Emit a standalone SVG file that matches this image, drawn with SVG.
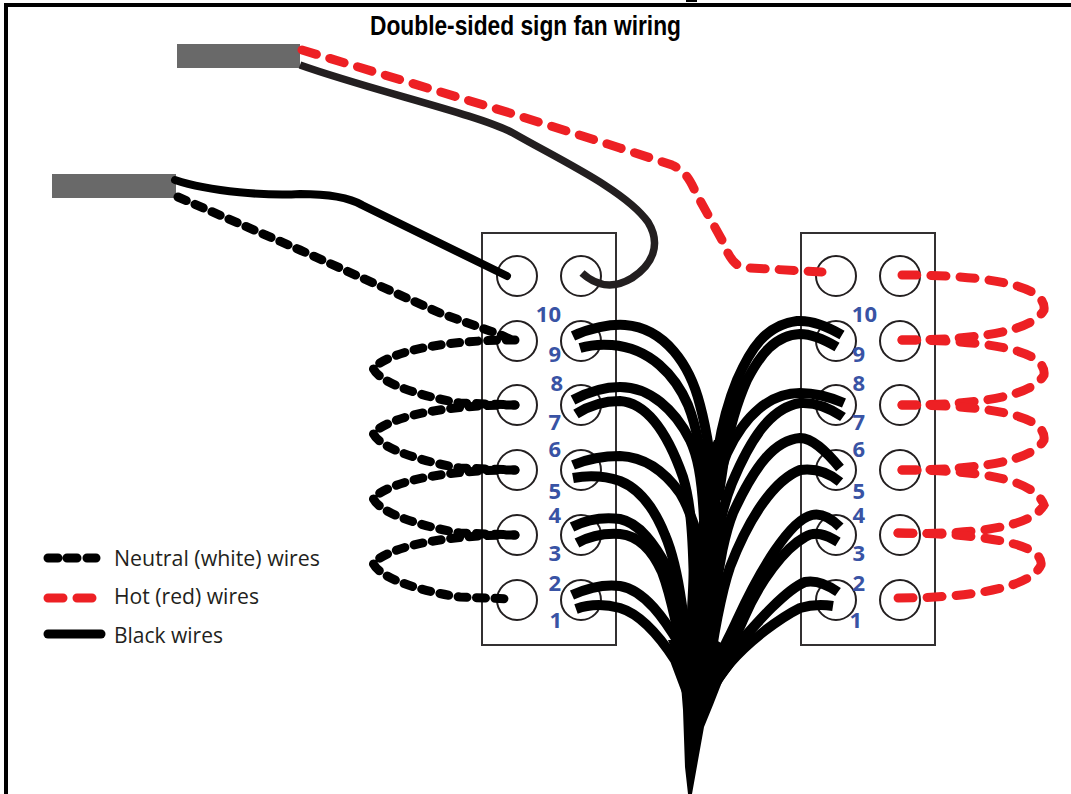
<svg xmlns="http://www.w3.org/2000/svg" width="1071" height="794" viewBox="0 0 1071 794">
<style>
.frame{fill:none;stroke:#000;stroke-width:4}
.block{fill:#fff;stroke:#333031;stroke-width:2}
.term{fill:none;stroke:#231f20;stroke-width:2}
.cable{fill:#696969}
.num{font:bold 22px "Open Sans","Noto Sans",sans-serif;fill:#3953a4;text-anchor:end}
.leg{font:21px "Open Sans","Noto Sans",sans-serif;fill:#231f20}
.title{font:bold 27px "Liberation Sans Narrow","Liberation Sans",sans-serif;fill:#000}
.fan{fill:none;stroke:#000;stroke-width:10;stroke-linejoin:round}
.neutral{fill:none;stroke:#000;stroke-width:9;stroke-linecap:round;stroke-dasharray:9 9.5}
.hot{fill:none;stroke:#ed2024;stroke-width:9;stroke-linecap:round;stroke-dasharray:15 14}
.black{fill:none;stroke:#000;stroke-width:8;stroke-linecap:round}
</style>
<rect width="1071" height="794" fill="#fff"/>
<path class="frame" d="M6 794V5H1071"/>
<rect x="686" y="0" width="11" height="2" fill="#000"/>
<text class="title" x="370" y="35" textLength="311" lengthAdjust="spacingAndGlyphs">Double-sided sign fan wiring</text>
<g id="block-left">
<rect class="block" x="482" y="233" width="134" height="412"/>
<circle class="term" cx="517" cy="276" r="20"/><circle class="term" cx="581" cy="276" r="20"/>
<circle class="term" cx="517" cy="341" r="20"/><circle class="term" cx="581" cy="341" r="20"/>
<circle class="term" cx="517" cy="405" r="20"/><circle class="term" cx="581" cy="405" r="20"/>
<circle class="term" cx="517" cy="470" r="20"/><circle class="term" cx="581" cy="470" r="20"/>
<circle class="term" cx="517" cy="535" r="20"/><circle class="term" cx="581" cy="535" r="20"/>
<circle class="term" cx="517" cy="600" r="20"/><circle class="term" cx="581" cy="600" r="20"/>
<text class="num" x="561" y="322">10</text><text class="num" x="561" y="362">9</text>
<text class="num" x="563" y="391">8</text><text class="num" x="561" y="430">7</text>
<text class="num" x="561" y="457">6</text><text class="num" x="561" y="499">5</text>
<text class="num" x="561" y="523">4</text><text class="num" x="561" y="561">3</text>
<text class="num" x="561" y="591">2</text><text class="num" x="562" y="628">1</text>
</g>
<g id="block-right">
<rect class="block" x="801" y="233" width="134" height="412"/>
<circle class="term" cx="836" cy="276" r="20"/><circle class="term" cx="900" cy="276" r="20"/>
<circle class="term" cx="836" cy="341" r="20"/><circle class="term" cx="900" cy="341" r="20"/>
<circle class="term" cx="836" cy="405" r="20"/><circle class="term" cx="900" cy="405" r="20"/>
<circle class="term" cx="836" cy="470" r="20"/><circle class="term" cx="900" cy="470" r="20"/>
<circle class="term" cx="836" cy="535" r="20"/><circle class="term" cx="900" cy="535" r="20"/>
<circle class="term" cx="836" cy="600" r="20"/><circle class="term" cx="900" cy="600" r="20"/>
<text class="num" x="877" y="322">10</text><text class="num" x="865" y="362">9</text>
<text class="num" x="865" y="391">8</text><text class="num" x="865" y="430">7</text>
<text class="num" x="865" y="457">6</text><text class="num" x="865" y="499">5</text>
<text class="num" x="865" y="523">4</text><text class="num" x="865" y="561">3</text>
<text class="num" x="865" y="591">2</text><text class="num" x="862" y="628">1</text>
</g>
<g id="cable-top"><rect class="cable" x="177" y="44" width="123" height="24"/></g>
<g id="cable-bottom"><rect class="cable" x="52" y="174" width="124" height="24"/></g>
<g id="connectors">
<path d="M300 65C370 90 480 115 513 133C560 160 625 190 648 222C662 245 652 265 632 278C612 290 595 285 582 273" fill="none" stroke="#231f20" stroke-width="7.5"/>
<path class="black" d="M175 180C210 192 270 196 300 194C330 194 350 198 362 205L507 276"/>
<path class="neutral" d="M178 197L300 250L440 313L490 331C505 336 510 340 516 341"/>
<path class="hot" d="M302 50L510 113L620 148L672 165C688 172 692 185 697 195L722 240C733 268 740 267 750 268L822 272"/>
<g id="neutral-loops">
<path class="neutral" d="M515 340C470 340 400 345 373 368C380 385 430 398 460 403L515 405"/>
<path class="neutral" d="M515 405C470 405 400 410 373 433C380 450 430 463 460 468L515 470"/>
<path class="neutral" d="M515 470C470 470 400 475 373 498C380 515 430 528 460 533L515 535"/>
<path class="neutral" d="M515 535C470 535 400 540 373 563C380 580 430 593 460 597L512 599"/>
</g>
<g id="hot-loops">
<path class="hot" d="M902 275C960 275 1048 280 1044 310C1030 335 960 340 902 340"/>
<path class="hot" d="M902 340C960 340 1048 345 1044 375C1030 400 960 405 902 405"/>
<path class="hot" d="M902 405C960 405 1048 410 1044 440C1030 465 960 470 902 470"/>
<path class="hot" d="M902 470C975 470 1034 478 1044 505C1030 530 960 535 898 533"/>
<path class="hot" d="M898 533C960 533 1045 540 1041 565C1030 590 960 598 898 598"/>
</g>
<g id="fan-left">
<path class="fan" d="M573 336C590 328 610 324 625 325C665 328 690 365 700 405C708 435 712 465 714 500"/>
<path class="fan" d="M580 348C590 345 600 344 612 345C650 348 675 375 688 405C698 430 703 460 707 500"/>
<path class="fan" d="M573 400C590 391 605 387 620 387C650 387 675 410 690 440C697 455 702 475 704 520"/>
<path class="fan" d="M576 414C590 405 605 401 620 401C650 403 670 440 683 477C690 500 693 530 694 590"/>
<path class="fan" d="M573 465C590 458 605 456 620 456C645 457 665 472 680 493C687 505 693 520 697 535"/>
<path class="fan" d="M573 478C590 475 605 476 620 481C640 489 655 510 665 535C680 570 686 630 690 690"/>
<path class="fan" d="M572 527C590 518 605 517 620 519C640 523 655 545 667 567C675 585 680 610 685 640"/>
<path class="fan" d="M577 543C590 536 605 533 620 534C640 536 653 552 662 572C672 598 682 650 690 700"/>
<path class="fan" d="M572 595C590 587 605 584 620 586C645 590 665 620 680 645L690 680"/>
<path class="fan" d="M576 609C590 604 605 604 620 608C640 614 660 637 675 660L690 700"/>
</g>
<g id="fan-right">
<path class="fan" d="M842 335C825 325 810 320 797 321C765 325 750 350 737 380C728 402 722 425 718 450L716 480"/>
<path class="fan" d="M837 347C825 340 812 334 800 334C775 335 760 355 747 380C738 400 730 425 724 460L718 500"/>
<path class="fan" d="M844 403C830 397 815 393 800 393C770 393 745 415 727 453C722 465 716 490 714 510"/>
<path class="fan" d="M843 417C830 408 815 402 800 403C770 408 750 440 732 483C725 500 717 530 715 560"/>
<path class="fan" d="M840 468C825 450 812 438 800 438C775 440 755 465 733 513C726 530 718 565 715 600"/>
<path class="fan" d="M840 482C828 472 815 468 800 470C775 480 750 515 730 567C722 590 712 640 708 680"/>
<path class="fan" d="M840 527C830 517 820 513 812 515C790 520 760 570 737 620C728 640 714 665 708 685"/>
<path class="fan" d="M838 542C825 534 815 531 805 537C785 548 760 580 743 620C735 640 718 665 710 685"/>
<path class="fan" d="M838 592C825 583 815 580 805 582C785 590 755 625 733 650C725 660 716 675 710 690"/>
<path class="fan" d="M833 606C820 604 810 605 800 608C780 618 750 640 730 663C724 670 716 682 711 692"/>
</g>
<path id="fan-stem" d="M714 440L701 470L700 515L697 533L689 570L687 610L676 640L668 640L680 672L683 710L685 767L688 794H692L704 727L713 705L722 682L742 655L716 640L717 620L720 560L720 490L716 440Z" fill="#000"/>
</g>
<g id="legend">
<path d="M48 558H58M67 558H77M87 558H96" stroke="#000" stroke-width="9" stroke-linecap="round" fill="none"/>
<path d="M48 598H63M77 598H92" stroke="#ed2024" stroke-width="9" stroke-linecap="round" fill="none"/>
<path d="M48 634H101" stroke="#000" stroke-width="9" stroke-linecap="round" fill="none"/>
<text class="leg" x="114" y="566" textLength="206" lengthAdjust="spacingAndGlyphs">Neutral (white) wires</text>
<text class="leg" x="114" y="604" textLength="145" lengthAdjust="spacingAndGlyphs">Hot (red) wires</text>
<text class="leg" x="114" y="643" textLength="109" lengthAdjust="spacingAndGlyphs">Black wires</text>
</g>
</svg>
